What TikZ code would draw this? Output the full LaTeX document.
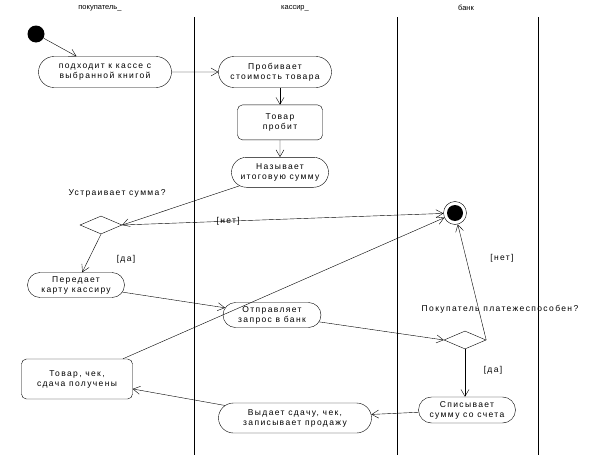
\documentclass[tikz,border=0pt]{standalone}
\usepackage{fontspec}
\setmainfont{Liberation Sans}[LetterSpace=16]
\newfontfamily\laneFont{Liberation Sans}
\usetikzlibrary{arrows, arrows.meta, positioning, shapes.geometric, shapes.misc}

\begin{document}
\begin{tikzpicture}[x=1pt, y=-1pt, font=\fontsize{8.5}{10}\selectfont]
			\tikzstyle{Activity} = [rounded rectangle, minimum height=25pt, inner sep=1pt, align=center, draw=black]
			\tikzstyle{State} = [rectangle, rounded corners=5pt, inner sep=1pt, align=center, draw=black]
			\tikzstyle{Decision} = [diamond, minimum width=42pt, minimum height=18pt, inner sep=0pt, draw=black]
			\tikzstyle{Lane} = [font=\laneFont\fontsize{7.5}{8}\selectfont]
			\tikzstyle{arrow} = [->, >={Straight Barb[angle=60:8pt]}]
			
			\useasboundingbox (0,0) rectangle (598,455);
			
			% plavatelnye dorozhki
			\node (buyerLane) [Lane] at (100,8) {покупатель\_};
			\node (cashierLane) [Lane] at (295,8) {кассир\_};
			\node (bankLane) [Lane] at (466,8) {банк};
			\draw (194,17) -- (194,455);
			\draw (397,17) -- (397,455);
			\draw (538,17) -- (538,455);
			
			\node (start) [circle, minimum size=17pt, inner sep=0pt, fill=black] at (36,34) {};
			\node (approach) [Activity, minimum width=135pt, minimum height=31pt] at (105,72) {подходит к кассе с\\выбранной книгой};
			
			\node (ring) [Activity, minimum width=115pt, minimum height=31pt] at (275,72) {Пробивает\\стоимость товара};
			\node (rung) [State, minimum width=85pt, minimum height=35pt, below = 17pt of ring, xshift=5pt] {Товар\\пробит};
			\node (total) [Activity, minimum width=99pt, minimum height=30pt, below = 17pt of rung] {Называет\\итоговую сумму};
			
			\node (sumOk) [Decision] at (101,225) {};
			\node (sumOkLabel) at (117,193) {Устраивает сумма?};
			
			\node (final) [circle, minimum size=23pt, inner sep=0pt, draw=black] at (455,213) {};
			\node (finalDot) [circle, minimum size=16pt, inner sep=0pt, fill=black] at (final) {};
			
			\node (giveCard) [Activity, minimum width=99pt] at (76,285) {Передает\\карту кассиру};
			\node (request) [Activity, minimum width=100pt] at (272,315) {Отправляет\\запрос в банк};
			
			\node (solvent) [Decision] at (465,340) {};
			\node (solventLabel) at (500,309) {Покупатель платежеспособен?};
			
			\node (debit) [Activity, minimum width=99pt, minimum height=26pt] at (467,410) {Списывает\\сумму со счета};
			\node (change) [Activity, minimum width=155pt, minimum height=30pt] at (295,418) {Выдает сдачу, чек,\\записывает продажу};
			\node (received) [State, minimum width=111pt, minimum height=40pt] at (77,379) {Товар, чек,\\сдача получены};
			
			
			\draw[arrow] (start) -- (approach);
			\draw[arrow] (approach) -- (ring);
			\draw[arrow] (rung.north |- ring.south) -- (rung.north);
			\draw[arrow] (rung) -- (total);
			\draw[arrow] (total) -- (sumOk.east);
			\draw[arrow] (sumOk.east) -- node[pos=0.33] {[нет]} (final);
			\draw[arrow] (sumOk.south) -- (giveCard);
			\node (sumYes) at (126,259) {[да]};
			\draw[arrow] (giveCard) -- (request);
			\draw[arrow] (request) -- (solvent.west);
			\draw[arrow] (solvent.east) -- (final);
			\node (solventNo) at (502,258) {[нет]};
			\draw[arrow] (solvent.south) -- (solvent.south |- debit.north);
			\node (solventYes) at (493,370) {[да]};
			\draw[arrow] (debit) -- (change);
			\draw[arrow] (change) -- (received);
			\draw[arrow] (received) -- (final);
		\end{tikzpicture}
\end{document}
